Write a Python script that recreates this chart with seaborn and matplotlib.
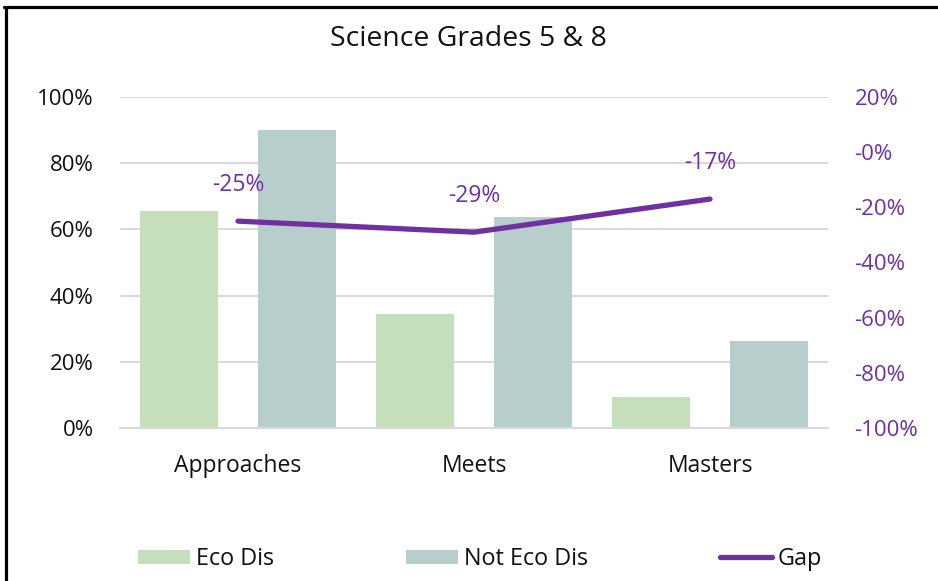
import matplotlib
matplotlib.use("Agg")
import matplotlib.pyplot as plt
from matplotlib.lines import Line2D
from matplotlib.patches import Patch
from matplotlib.ticker import PercentFormatter, FixedLocator
import seaborn as sns
import pandas as pd
import numpy as np

# Performance levels and shares of students reaching each level
levels = ["Approaches", "Meets", "Masters"]
eco_dis = [0.655, 0.345, 0.094]
not_eco_dis = [0.90, 0.637, 0.263]
gap = [-0.25, -0.29, -0.17]
gap_labels = ["-25%", "-29%", "-17%"]
series_names = ["Eco Dis", "Not Eco Dis", "Gap"]
title = "Science Grades 5 & 8"

GREEN = "#c5dfbd"
TEAL = "#b8cecd"
PURPLE = "#7030a0"
GRID = "#d9d9d9"
TEXT = "#111111"

sns.set_theme(style="white")
plt.rcParams["font.family"] = ["Open Sans", "DejaVu Sans"]
plt.rcParams["axes.unicode_minus"] = False

df = pd.DataFrame({
    "level": levels * 2,
    "share": eco_dis + not_eco_dis,
    "group": [series_names[0]] * 3 + [series_names[1]] * 3,
})

W, H = 938, 581
fig = plt.figure(figsize=(W / 100, H / 100), dpi=100)
ax = fig.add_axes([120 / W, 1 - 428 / H, 708 / W, 331 / H])

sns.barplot(data=df, x="level", y="share", hue="group", order=levels,
            hue_order=series_names[:2], palette=[GREEN, TEAL], saturation=1,
            width=1.0, gap=0.34, linewidth=0, ax=ax, legend=False, zorder=2)

ax.set_xlim(-0.5, 2.5)
ax.set_ylim(0, 1.0)
ax.yaxis.set_major_locator(FixedLocator(np.linspace(0, 1, 6)))
ax.yaxis.set_major_formatter(PercentFormatter(1.0, decimals=0))
ax.grid(axis="y", color=GRID, linewidth=1.5, zorder=0)
ax.set_axisbelow(True)
for side in ["left", "right", "top"]:
    ax.spines[side].set_visible(False)
ax.spines["bottom"].set_color(GRID)
ax.spines["bottom"].set_linewidth(1.5)
ax.set_xlabel("")
ax.set_ylabel("")
ax.tick_params(axis="y", length=0, pad=19, labelsize=16, labelcolor=TEXT)
ax.tick_params(axis="x", length=0, pad=19, labelsize=16.5, labelcolor=TEXT)

# Gap line on the secondary axis
ax2 = ax.twinx()
sns.lineplot(x=np.arange(len(levels)), y=gap, ax=ax2, color=PURPLE,
             linewidth=3.8, solid_capstyle="round", solid_joinstyle="round")
ax2.set_ylim(-1.0, 0.2)
ax2.yaxis.set_major_locator(FixedLocator(np.linspace(-1.0, 0.2, 7)))
ax2.yaxis.set_major_formatter(PercentFormatter(1.0, decimals=0))
ax2.tick_params(axis="y", length=0, pad=19, labelsize=16, labelcolor=PURPLE)
for side in ax2.spines:
    ax2.spines[side].set_visible(False)
ax2.set_ylabel("")
ax2.grid(False)
for i, (v, lab) in enumerate(zip(gap, gap_labels)):
    ax2.annotate(lab, (i, v), xytext=(0, 26), textcoords="offset points",
                 ha="center", va="center", fontsize=16.5, color=PURPLE)

fig.text(468 / W, 1 - 39 / H, title, ha="center", va="center",
         fontsize=20.4, color=TEXT)

handles = [Patch(facecolor=GREEN, edgecolor="none"),
           Patch(facecolor=TEAL, edgecolor="none"),
           Line2D([], [], color=PURPLE, linewidth=3.8, solid_capstyle="round")]
fig.legend(handles, series_names, loc="center", ncol=3,
           bbox_to_anchor=(480 / W, 1 - 559 / H), frameon=False,
           fontsize=16.8, handlelength=2.23, handleheight=0.56,
           handletextpad=0.26, columnspacing=5.65, labelcolor=TEXT)

# Frame edges along the top and left of the panel
fig.add_artist(Line2D([5.5 / W, 5.5 / W], [0, 1 - 6.5 / H],
                      transform=fig.transFigure, color="black", linewidth=2.3))
fig.add_artist(Line2D([4 / W, 1], [1 - 6.5 / H, 1 - 6.5 / H],
                      transform=fig.transFigure, color="black", linewidth=2.3))

fig.savefig("out.png", dpi=100, facecolor="white")
